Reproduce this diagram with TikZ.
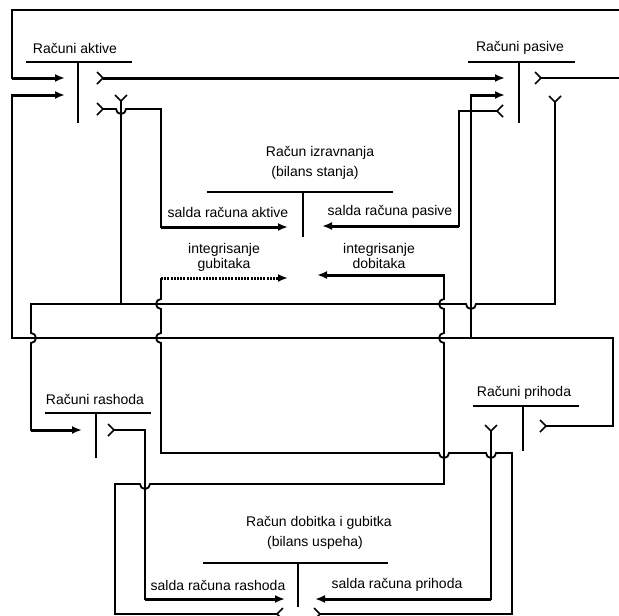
\documentclass[tikz,border=0pt]{standalone}
\usepackage{fontspec}
\setmainfont{Liberation Sans}
\usetikzlibrary{arrows.meta}
\tikzset{
  conn/.style={line width=1.8pt, line join=miter, line cap=butt},
  thk/.style={line width=3pt, -{Latex[length=10pt,width=8pt]}},
  dotarr/.style={line width=3pt, dash pattern=on 2pt off 1.2pt, -{Latex[length=10pt,width=8pt]}},
  lbl/.style={font=\fontsize{14}{17}\selectfont, inner sep=0pt, align=center},
  tbar/.style={line width=1.8pt},
  barb/.pic={\draw[line width=1.6pt] (-6,6) -- (0,0) -- (-6,-6);}
}
\begin{document}
\begin{tikzpicture}[x=1pt,y=1pt]
\fill[white] (0,0) rectangle (619,-616);
\useasboundingbox (0,0) rectangle (619,-616);

% ---------- labels ----------
\node[lbl] (la) at (75,-48) {Računi aktive};
\node[lbl] (lp) at (520,-48) {Računi pasive};
\node[lbl] (lbs1) at (320,-153) {Račun izravnanja};
\node[lbl] (lbs2) at (315,-173) {(bilans stanja)};
\node[lbl] (sra) at (228,-212) {salda računa aktive};
\node[lbl] (srp) at (390,-212) {salda računa pasive};
\node[lbl] (ig) at (224,-257) {integrisanje\\[-2pt]gubitaka};
\node[lbl] (id) at (379,-256) {integrisanje\\[-2pt]dobitaka};
\node[lbl] (lr) at (95,-399) {Računi rashoda};
\node[lbl] (lpr) at (524,-393) {Računi prihoda};
\node[lbl] (lbu1) at (319,-523) {Račun dobitka i gubitka};
\node[lbl] (lbu2) at (315,-543) {(bilans uspeha)};
\node[lbl] (srr) at (218,-585) {salda računa rashoda};
\node[lbl] (srpr) at (397,-585) {salda računa prihoda};

% ---------- T accounts ----------
\draw[tbar] (26,-62) -- (132,-62) (78,-62) -- (78,-123);
\draw[tbar] (468,-62) -- (575,-62) (519,-62) -- (519,-123);
\draw[tbar] (207,-192) -- (393,-192) (303,-192) -- (303,-237);
\draw[tbar] (45,-413) -- (151,-413) (96,-413) -- (96,-458);
\draw[tbar] (473,-406) -- (579,-406) (523,-406) -- (523,-451);
\draw[tbar] (203,-563) -- (388,-563) (298,-563) -- (298,-607);

% ---------- connectors ----------
% top loop into Racuni aktive (debit)
\draw[conn] (619,-10) -- (12,-10) -- (12,-78) -- (40,-78);
\draw[thk] (12,-78) -- (65,-78);

% Racuni prihoda (credit) -> aktive and pasive (debit)
\pic at (546,-426) {barb};
\draw[conn] (546,-426) -- (613,-426) -- (613,-338) -- (12,-338) -- (12,-95) -- (40,-95);
\draw[thk] (12,-95) -- (65,-95);
\draw[conn] (471,-338) -- (471,-95) -- (490,-95);
\draw[thk] (471,-95) -- (505,-95);

% aktive credit -> pasive debit
\pic at (103,-78) {barb};
\draw[thk] (103,-78) -- (505,-78);

% pasive credit (to the right, cut off)
\pic at (541,-78) {barb};
\draw[conn] (541,-78) -- (619,-78);

% salda racuna aktive
\pic at (103,-109) {barb};
\draw[conn] (103,-109) -- (116,-109) arc[start angle=180,end angle=360,radius=5pt] -- (161,-109) -- (161,-227) -- (270,-227);
\draw[thk] (161,-227) -- (288,-227);

% Y lines from aktive and pasive credit -> rashoda debit
\pic[rotate=-90] at (121,-101) {barb};
\draw[conn] (121,-101) -- (121,-304);
\pic[rotate=-90] at (555,-102) {barb};
\draw[conn] (555,-102) -- (555,-304) -- (476,-304) arc[start angle=0,end angle=-180,radius=5pt] -- (31,-304) -- (31,-333) arc[start angle=90,end angle=-90,radius=5pt] -- (31,-430) -- (60,-430);
\draw[thk] (31,-430) -- (82,-430);

% salda racuna pasive
\pic[rotate=180] at (497,-111) {barb};
\draw[conn] (497,-111) -- (459,-111) -- (459,-226) -- (340,-226);
\draw[thk] (459,-226) -- (322,-226);

% integrisanje dobitaka
\pic[rotate=180] at (277,-614) {barb};
\draw[conn] (277,-614) -- (115,-614) -- (115,-484) -- (140,-484) arc[start angle=180,end angle=360,radius=5pt] -- (444,-484) -- (444,-343) arc[start angle=270,end angle=90,radius=5pt] -- (444,-309) arc[start angle=270,end angle=90,radius=5pt] -- (444,-275) -- (430,-275);
\draw[thk] (444,-275) -- (317,-275);

% integrisanje gubitaka
\pic at (320,-614) {barb};
\draw[conn] (320,-614) -- (512,-614) -- (512,-453) -- (496,-453) arc[start angle=0,end angle=-180,radius=5pt] -- (449,-453) arc[start angle=0,end angle=-180,radius=5pt] -- (161,-453) -- (161,-343) arc[start angle=270,end angle=90,radius=5pt] -- (161,-309) arc[start angle=270,end angle=90,radius=5pt] -- (161,-278);
\draw[dotarr] (161,-278) -- (288,-278);

% salda racuna rashoda
\pic at (114,-430) {barb};
\draw[conn] (114,-430) -- (145,-430) -- (145,-599) -- (260,-599);
\draw[thk] (145,-599) -- (285,-599);

% salda racuna prihoda
\pic[rotate=-90] at (491,-431) {barb};
\draw[conn] (491,-431) -- (491,-599) -- (340,-599);
\draw[thk] (491,-599) -- (315,-599);
\end{tikzpicture}
\end{document}
